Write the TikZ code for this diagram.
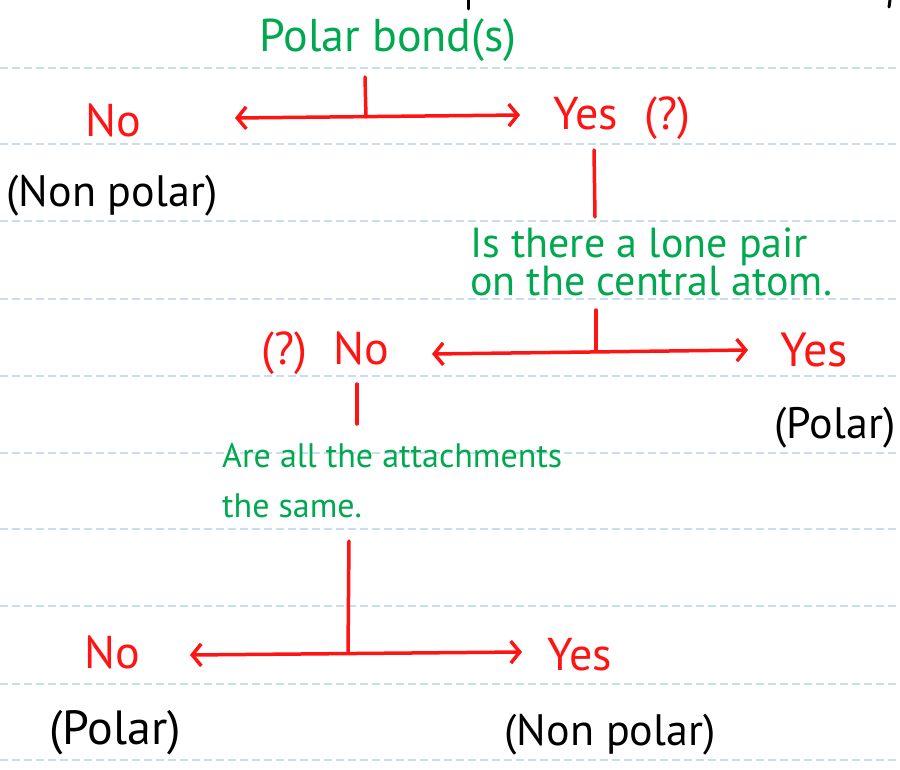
\documentclass[tikz,border=0pt]{standalone}
\usepackage{fontspec}
\setmainfont{PT Sans}
\usetikzlibrary{arrows.meta}
\definecolor{inkred}{HTML}{FF1414}
\definecolor{inkgreen}{HTML}{00A84F}
\definecolor{rulecol}{HTML}{CADDF0}

\begin{document}
\begin{tikzpicture}[x=1pt,y=-1pt,
    answer/.style={text=inkred,font=\fontsize{46}{50}\selectfont,inner sep=0pt},
    question/.style={text=inkgreen,inner sep=0pt,align=left},
    verdict/.style={text=black,font=\fontsize{44}{48}\selectfont,inner sep=0pt},
    ruling/.style={draw=rulecol,line width=2pt,dash pattern=on 8pt off 4pt},
    branch/.style={draw=inkred,line width=3.5pt,line cap=round},
    choice/.style={branch,{Straight Barb[length=9pt,width=22pt]}-{Straight Barb[length=9pt,width=22pt]}}]
    \useasboundingbox (0,0) rectangle (900,770);

    % ruled paper
    \foreach \y in {68,144,221,299,376,453,529,606,684,760}
        \draw[ruling] (0,\y) -- (900,\y);
    \draw[line width=3pt,line cap=round] (468,0) -- (468,9);
    \draw[line width=3pt,line cap=round] (890,0) -- (889,7);

    % first question
    \node[question,font=\fontsize{46}{50}\selectfont] (bonds) at (388,40) {Polar bond(s)};
    \node[answer] (no1) at (113,120) {No};
    \node[answer] (yes1) at (622,118) {Yes\hspace{26pt}(?)};
    \node[verdict] (np1) at (112,196) {(Non polar)};
    \coordinate (t1) at (365,77);
    \coordinate (j1) at (366,117);
    \coordinate (l1) at (235,118);
    \coordinate (r1) at (520,115);
    \draw[branch] (t1) -- (j1);
    \draw[choice] (l1) -- (r1);

    % second question
    \coordinate (d1) at (594,150);
    \coordinate (e1) at (595,217);
    \draw[branch] (d1) -- (e1);
    \node[question,anchor=north west,font=\fontsize{42}{38}\selectfont] (lone) at (470,228)
        {Is there a lone pair\\on the central atom.};
    \node[answer] (no2) at (325,353) {(?)\hspace{26pt}No};
    \node[answer,font=\fontsize{48}{50}\selectfont] (yes2) at (814,350) {Yes};
    \node[verdict] (p2) at (835,428) {(Polar)};
    \coordinate (t2) at (596,310);
    \coordinate (l2) at (432,354);
    \coordinate (r2) at (748,350);
    \draw[branch] (t2) -- (596,351);
    \draw[choice] (l2) -- (r2);

    % third question
    \coordinate (d2) at (357,384);
    \coordinate (e2) at (357,424);
    \draw[branch] (d2) -- (e2);
    \node[question,anchor=north west,font=\fontsize{34}{50}\selectfont] (same) at (222,443)
        {Are all the attachments\\the same.};
    \node[answer] (no3) at (112,652) {No};
    \node[answer] (yes3) at (580,655) {Yes};
    \node[verdict,font=\fontsize{48}{50}\selectfont] (p3) at (115,733) {(Polar)};
    \node[verdict] (np3) at (610,735) {(Non polar)};
    \coordinate (t3) at (349,541);
    \coordinate (j3) at (348,652);
    \coordinate (l3) at (190,655);
    \coordinate (r3) at (522,652);
    \draw[branch] (t3) -- (j3);
    \draw[choice] (l3) -- (r3);
\end{tikzpicture}
\end{document}
